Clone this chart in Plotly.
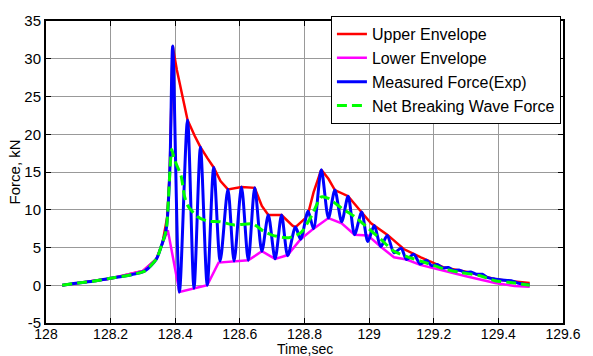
import plotly.graph_objects as go

# ---- data (time in s, force in kN) ----
upper_t = [128.05, 128.20, 128.30, 128.342, 128.36, 128.375, 128.383, 128.392,
           128.405, 128.42, 128.438, 128.46, 128.478, 128.50, 128.519, 128.54,
           128.563, 128.605, 128.646, 128.668, 128.688, 128.729, 128.763, 128.772,
           128.803, 128.813, 128.828, 128.852, 128.874, 128.894, 128.935, 128.976,
           129.006, 129.056, 129.107, 129.160, 129.229, 129.30, 129.39, 129.45, 129.497]
upper_f = [0.0, 0.9, 1.9, 3.5, 5.5, 9.0, 15.0, 31.7,
           28.5, 25.5, 21.9, 19.8, 18.3, 16.8, 15.6, 13.8,
           12.7, 13.0, 12.9, 10.5, 9.3, 9.3, 7.9, 7.7,
           8.9, 9.8, 12.3, 15.3, 14.1, 12.6, 11.8, 9.7,
           8.2, 6.7, 4.8, 3.7, 2.4, 1.8, 0.8, 0.5, 0.3]

lower_t = [128.05, 128.20, 128.30, 128.342, 128.36, 128.377, 128.413, 128.458,
           128.499, 128.534, 128.582, 128.626, 128.668, 128.709, 128.748, 128.788,
           128.828, 128.874, 128.915, 128.955, 128.996, 129.036, 129.077, 129.116,
           129.158, 129.229, 129.30, 129.39, 129.45, 129.497]
lower_f = [0.0, 0.9, 1.9, 3.5, 5.5, 7.3, -0.9, -0.4,
           0.0, 3.0, 3.2, 3.3, 4.5, 3.5, 4.0, 6.1,
           7.5, 8.9, 8.2, 6.7, 6.6, 5.1, 3.7, 3.4,
           2.7, 1.9, 1.2, 0.3, -0.1, -0.2]

measured_t = [128.05, 128.10, 128.15, 128.195, 128.265, 128.306, 128.342, 128.357,
              128.372, 128.383, 128.392, 128.413, 128.438, 128.458, 128.478, 128.499,
              128.519, 128.539, 128.563, 128.582, 128.605, 128.626, 128.646, 128.668,
              128.688, 128.709, 128.729, 128.748, 128.772, 128.788, 128.811, 128.828,
              128.852, 128.874, 128.894, 128.915, 128.935, 128.955, 128.977, 128.996,
              129.016, 129.036, 129.056, 129.077, 129.099, 129.116, 129.138, 129.158,
              129.178, 129.193, 129.21, 129.228, 129.245, 129.262, 129.28, 129.298,
              129.315, 129.332, 129.35, 129.368, 129.385, 129.40, 129.42, 129.44,
              129.46, 129.48, 129.497]
measured_f = [0.0, 0.3, 0.55, 0.9, 1.4, 1.9, 3.5, 5.2,
              7.4, 15.0, 31.7, -0.9, 21.9, -0.4, 18.3, 0.0,
              15.6, 3.2, 12.7, 3.2, 13.0, 3.3, 12.9, 4.5,
              9.3, 3.5, 9.3, 3.9, 7.7, 6.1, 9.8, 7.5,
              15.3, 8.9, 12.6, 8.4, 11.8, 6.7, 9.7, 5.8,
              7.9, 5.1, 6.6, 4.3, 4.9, 3.4, 4.1, 2.8,
              3.3, 2.6, 2.75, 2.3, 2.35, 1.95, 2.0, 1.7,
              1.75, 1.45, 1.45, 1.0, 0.85, 0.75, 0.65, 0.6,
              0.3, 0.15, 0.05]

net_t = [128.05, 128.10, 128.15, 128.195, 128.265, 128.306, 128.342, 128.357,
         128.372, 128.389, 128.397, 128.418, 128.428, 128.438, 128.468, 128.499,
         128.539, 128.580, 128.641, 128.672, 128.702, 128.752, 128.79, 128.823,
         128.852, 128.874, 128.915, 128.955, 128.996, 129.036, 129.077, 129.117,
         129.160, 129.229, 129.28, 129.34, 129.39, 129.45, 129.497]
net_f = [0.0, 0.3, 0.55, 0.9, 1.4, 1.9, 3.5, 5.2,
         7.3, 18.0, 16.7, 14.5, 11.9, 10.6, 9.1, 8.5,
         8.4, 8.0, 8.1, 7.2, 6.6, 6.3, 7.0, 9.3,
         11.7, 11.5, 10.2, 9.1, 7.6, 6.1, 4.5, 3.8,
         3.2, 2.2, 1.7, 1.3, 0.6, 0.3, 0.0]

x_ticks = [128, 128.2, 128.4, 128.6, 128.8, 129, 129.2, 129.4, 129.6]
y_ticks = [-5, 0, 5, 10, 15, 20, 25, 30, 35]

FONT = "Liberation Sans, Arial, sans-serif"

fig = go.Figure()
fig.add_trace(go.Scatter(x=upper_t, y=upper_f, mode="lines", name="Upper Envelope",
                         line=dict(color="#ff0000", width=2.5)))
fig.add_trace(go.Scatter(x=lower_t, y=lower_f, mode="lines", name="Lower Envelope",
                         line=dict(color="#ff00ff", width=2.5)))
fig.add_trace(go.Scatter(x=measured_t, y=measured_f, mode="lines", name="Measured Force(Exp)",
                         line=dict(color="#0000ff", width=3, shape="spline", smoothing=0.8)))
fig.add_trace(go.Scatter(x=net_t, y=net_f, mode="lines", name="Net Breaking Wave Force",
                         line=dict(color="#00ff00", width=3, dash="10px,5px",
                                   shape="spline", smoothing=0.6)))

axis_common = dict(
    showgrid=True, gridcolor="#999999", gridwidth=1,
    showline=True, linecolor="black", linewidth=2, mirror="ticks",
    ticks="inside", ticklen=5, tickcolor="black",
    zeroline=False,
)
fig.update_xaxes(range=[128, 129.6], tickmode="array", tickvals=x_ticks,
                 ticktext=[f"{v:g}" for v in x_ticks], ticklabelstandoff=-3,
                 tickfont=dict(family=FONT, size=14, color="black"),
                 **axis_common)
fig.update_yaxes(range=[-5, 35], tickmode="array", tickvals=y_ticks,
                 ticktext=[str(v) for v in y_ticks],
                 tickfont=dict(family=FONT, size=15, color="black"),
                 **axis_common)

fig.add_annotation(text="Time,sec", xref="paper", yref="paper", x=0.5, y=-0.0855,
                   xanchor="center", yanchor="middle", showarrow=False,
                   font=dict(family=FONT, size=14, color="black"))
fig.add_annotation(text="Force, kN", xref="paper", yref="paper", x=-0.061, y=0.5,
                   xanchor="center", yanchor="middle", textangle=-90, showarrow=False,
                   font=dict(family=FONT, size=15, color="black"))

fig.update_layout(
    width=593, height=356,
    margin=dict(l=46, r=21, t=15, b=33),
    paper_bgcolor="white", plot_bgcolor="white",
    showlegend=True,
    legend=dict(x=0.996, y=1.016, xanchor="right", yanchor="top",
                bgcolor="white", bordercolor="black", borderwidth=1,
                font=dict(family=FONT, size=16, color="black"),
                itemwidth=30, tracegroupgap=0),
)

fig.write_html("out.html")
